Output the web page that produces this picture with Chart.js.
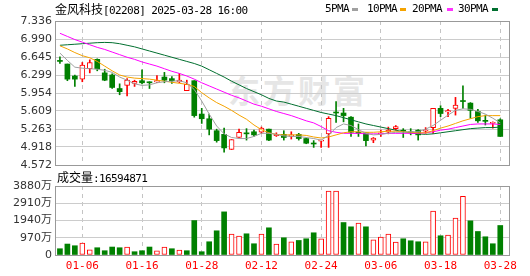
<!DOCTYPE html>
<html>
<head>
<meta charset="utf-8">
<script src="https://cdn.jsdelivr.net/npm/chart.js@4.4.0/dist/chart.umd.min.js"></script>
<style>
    html, body { margin: 0; padding: 0; background: #fff; }
    #wrap { position: relative; width: 530px; height: 276px; overflow: hidden; }
    .t { position: absolute; white-space: nowrap; font-family: "DejaVu Sans Mono", monospace; font-size: 11px; letter-spacing: -0.6px; color: #000; line-height: 12px; }
    .cjk { font-family: "Noto Sans CJK SC"; font-size: 12px; letter-spacing: 0; }
    .sq { position: absolute; width: 6px; height: 3px; top: 8px; }
    #wm { position: absolute; left: 228px; top: 66px; font-family: "Noto Sans CJK SC"; font-weight: bold; font-size: 32px; color: #e6e6e6; letter-spacing: 3px; }
    canvas { position: absolute; left: 0; }
</style>
</head>
<body>
<div id="wrap">
    <div id="wm">东方财富</div>
    <canvas id="price" width="530" height="180" style="top:0;width:530px;height:180px"></canvas>
    <canvas id="vol" width="530" height="106" style="top:170px;width:530px;height:106px"></canvas>

    <div class="t" style="left:55px;top:3px"><span class="cjk">金风科技</span>[02208] 2025-03-28 16:00</div>
    <div class="t" style="left:325px;top:3px">5PMA</div><div class="sq" style="left:352px;background:#a0a0a0"></div>
    <div class="t" style="left:367px;top:3px">10PMA</div><div class="sq" style="left:400px;background:#f5a300"></div>
    <div class="t" style="left:412px;top:3px">20PMA</div><div class="sq" style="left:447px;background:#ff33ff"></div>
    <div class="t" style="left:458px;top:3px">30PMA</div><div class="sq" style="left:492px;background:#006f2f"></div>
    <div class="t" style="left:57px;top:171px"><span class="cjk">成交量</span>:16594871</div>
</div>

<script>
    "use strict";

    // trading days
    const dates = ["12-31", "01-02", "01-03", "01-06", "01-07", "01-08", "01-09", "01-10", "01-13", "01-14",
        "01-15", "01-16", "01-17", "01-20", "01-21", "01-22", "01-23", "01-24", "01-27", "01-28",
        "02-03", "02-04", "02-05", "02-06", "02-07", "02-10", "02-11", "02-12", "02-13", "02-14",
        "02-17", "02-18", "02-19", "02-20", "02-21", "02-24", "02-25", "02-26", "02-27", "02-28",
        "03-03", "03-04", "03-05", "03-06", "03-07", "03-10", "03-11", "03-12", "03-13", "03-14",
        "03-17", "03-18", "03-19", "03-20", "03-21", "03-24", "03-25", "03-26", "03-27", "03-28"];

    const openP = [6.58, 6.51, 6.28, 6.22, 6.42, 6.60, 6.34, 6.30, 6.04, 6.10,
        6.14, 6.19, 6.16, 6.165, 6.26, 6.23, 6.165, 6.00, 6.19, 5.55,
        5.46, 5.23, 5.16, 4.87, 5.10, 5.18, 5.21, 5.20, 5.26, 5.135,
        5.16, 5.12, 5.16, 5.08, 4.985, 5.03, 5.17, 5.58, 5.57, 5.49,
        5.19, 5.19, 5.05, 5.17, 5.20, 5.27, 5.23, 5.205, 5.24, 5.22,
        5.29, 5.66, 5.59, 5.66, 5.80, 5.76, 5.60, 5.43, 5.37, 5.44];
    const highP = [6.65, 6.51, 6.30, 6.54, 6.59, 6.61, 6.41, 6.32, 6.13, 6.23,
        6.20, 6.40, 6.17, 6.29, 6.35, 6.27, 6.33, 6.20, 6.19, 5.66,
        5.55, 5.26, 5.28, 5.06, 5.26, 5.27, 5.24, 5.30, 5.26, 5.19,
        5.23, 5.21, 5.18, 5.09, 5.04, 5.05, 5.50, 5.79, 5.66, 5.50,
        5.36, 5.19, 5.10, 5.24, 5.30, 5.33, 5.27, 5.27, 5.25, 5.29,
        5.66, 5.71, 5.64, 5.87, 6.09, 5.77, 5.64, 5.53, 5.40, 5.46];
    const lowP = [6.52, 6.19, 6.08, 6.17, 6.34, 6.38, 6.19, 6.04, 5.92, 5.90,
        6.08, 6.13, 6.04, 6.15, 6.15, 6.14, 6.15, 6.00, 5.49, 5.37,
        5.15, 5.01, 4.82, 4.87, 5.10, 5.05, 5.12, 5.18, 5.04, 5.12,
        5.05, 5.07, 5.05, 4.98, 4.91, 4.91, 4.91, 5.39, 5.40, 5.12,
        5.12, 4.94, 5.00, 5.12, 5.17, 5.24, 5.10, 5.15, 5.05, 5.18,
        5.18, 5.50, 5.50, 5.53, 5.66, 5.47, 5.39, 5.34, 5.28, 5.12];
    const closeP = [6.56, 6.22, 6.22, 6.49, 6.54, 6.42, 6.20, 6.06, 5.98, 6.20,
        6.18, 6.15, 6.15, 6.19, 6.20, 6.19, 6.20, 6.12, 5.52, 5.46,
        5.26, 5.04, 4.90, 5.06, 5.20, 5.17, 5.15, 5.28, 5.05, 5.16,
        5.10, 5.15, 5.08, 4.99, 4.975, 5.04, 5.47, 5.57, 5.52, 5.20,
        5.18, 5.04, 5.09, 5.19, 5.24, 5.31, 5.22, 5.19, 5.15, 5.24,
        5.66, 5.56, 5.615, 5.72, 5.79, 5.62, 5.42, 5.41, 5.385, 5.12];

    // moving averages as drawn
    const ma5 = [6.72, 6.58, 6.45, 6.43, 6.42, 6.41, 6.39, 6.35, 6.26, 6.20,
        6.13, 6.10, 6.11, 6.15, 6.17, 6.18, 6.19, 6.15, 6.02, 5.80,
        5.55, 5.32, 5.17, 5.10, 5.08, 5.08, 5.12, 5.18, 5.18, 5.16,
        5.13, 5.12, 5.12, 5.10, 5.08, 5.05, 5.14, 5.29, 5.36, 5.33,
        5.25, 5.18, 5.15, 5.16, 5.18, 5.20, 5.20, 5.21, 5.21, 5.26,
        5.33, 5.43, 5.53, 5.62, 5.65, 5.64, 5.60, 5.55, 5.47, 5.38];
    const ma10 = [6.86, 6.80, 6.73, 6.67, 6.63, 6.56, 6.47, 6.38, 6.30, 6.26,
        6.24, 6.23, 6.22, 6.20, 6.18, 6.16, 6.14, 6.12, 6.08, 5.96,
        5.86, 5.77, 5.70, 5.62, 5.53, 5.45, 5.34, 5.25, 5.19, 5.16,
        5.15, 5.15, 5.15, 5.14, 5.11, 5.09, 5.11, 5.15, 5.19, 5.21,
        5.21, 5.20, 5.20, 5.21, 5.22, 5.22, 5.21, 5.20, 5.19, 5.19,
        5.23, 5.28, 5.32, 5.37, 5.42, 5.46, 5.50, 5.52, 5.52, 5.52];
    const ma20 = [7.10, 7.04, 6.98, 6.93, 6.88, 6.83, 6.79, 6.74, 6.69, 6.64,
        6.60, 6.55, 6.51, 6.47, 6.42, 6.37, 6.33, 6.28, 6.22, 6.15,
        6.09, 6.03, 5.97, 5.91, 5.86, 5.80, 5.74, 5.70, 5.65, 5.60,
        5.56, 5.52, 5.47, 5.42, 5.38, 5.31, 5.23, 5.20, 5.18, 5.18,
        5.18, 5.17, 5.17, 5.17, 5.18, 5.18, 5.18, 5.18, 5.18, 5.19,
        5.21, 5.24, 5.26, 5.29, 5.32, 5.35, 5.36, 5.36, 5.36, 5.35];
    const ma30 = [6.87, 6.88, 6.89, 6.90, 6.91, 6.92, 6.925, 6.92, 6.90, 6.87,
        6.84, 6.80, 6.76, 6.72, 6.68, 6.64, 6.60, 6.56, 6.52, 6.47,
        6.40, 6.33, 6.26, 6.18, 6.11, 6.04, 5.98, 5.92, 5.85, 5.80,
        5.78, 5.74, 5.70, 5.66, 5.62, 5.58, 5.55, 5.52, 5.48, 5.44,
        5.40, 5.36, 5.33, 5.30, 5.27, 5.24, 5.21, 5.19, 5.17, 5.16,
        5.17, 5.19, 5.21, 5.23, 5.25, 5.27, 5.28, 5.29, 5.29, 5.30];

    // volume in 万 shares, volUp 1 = red
    const volume = [353, 616, 521, 672, 297, 409, 241, 448, 409, 448,
        185, 241, 448, 241, 448, 353, 280, 241, 1938, 185,
        745, 1361, 2425, 1176, 1064, 1193, 633, 1176, 1529, 616,
        969, 745, 818, 913, 1249, 913, 3601, 3601, 1826, 1585,
        1792, 1585, 857, 1008, 1176, 728, 913, 801, 745, 745,
        2464, 1081, 1120, 2072, 3304, 1921, 1322, 1025, 633, 1659];
    const volUp = [0, 0, 0, 1, 1, 0, 0, 0, 0, 1,
        0, 0, 0, 1, 1, 0, 1, 0, 0, 0,
        0, 0, 0, 1, 1, 0, 0, 1, 0, 1,
        0, 1, 0, 0, 0, 1, 1, 1, 0, 0,
        1, 0, 1, 1, 1, 1, 0, 0, 0, 1,
        1, 0, 1, 1, 1, 0, 0, 0, 0, 0];

    const priceTicks = [4.572, 4.918, 5.263, 5.609, 5.954, 6.299, 6.645, 6.990, 7.336];
    const priceTickLabels = ["4.572", "4.918", "5.263", "5.609", "5.954", "6.299", "6.645", "6.990", "7.336"];
    const volTicks = [0, 970, 1940, 2910, 3880];
    const volTickLabels = ["0", "970万", "1940万", "2910万", "3880万"];
    const dateTicks = ["01-06", "01-16", "01-28", "02-12", "02-24", "03-06", "03-18", "03-28"];

    const RED = "#ff0000", GREEN = "#008000";
    const X_MIN = -0.66, X_MAX = 60.17;

    // box round each panel
    var frame = {
        id: "frame",
        afterDraw: function (chart) {
            var a = chart.chartArea, ctx = chart.ctx;
            ctx.save();
            ctx.strokeStyle = "#999";
            ctx.lineWidth = 1;
            ctx.strokeRect(Math.round(a.left) + 0.5, Math.round(a.top) + 0.5,
                Math.round(a.right - a.left), Math.round(a.bottom - a.top));
            ctx.restore();
        }
    };

    function xScale(showLabels) {
        return {
            type: "linear", min: X_MIN, max: X_MAX, offset: false,
            grid: { color: "#c4c4c4", drawTicks: false, offset: false },
            border: { display: false, dash: [4, 4] },
            ticks: {
                display: showLabels, autoSkip: false, maxRotation: 0, padding: 5,
                color: RED, font: { family: "'DejaVu Sans Mono'", size: 11 },
                callback: function (v) { return dates[v]; }
            },
            afterBuildTicks: function (s) {
                s.ticks = dateTicks.map(function (d) { return { value: dates.indexOf(d) }; });
            },
            afterFit: function (s) { s.height = showLabels ? 21 : 0; }
        };
    }

    function yScale(min, max, vals, labels) {
        return {
            type: "linear", min: min, max: max, beginAtZero: false,
            grid: { color: "#cccccc", drawTicks: false },
            border: { display: false },
            ticks: {
                padding: 3, color: "#333",
                font: { family: "'DejaVu Sans', 'Noto Sans CJK SC'", size: 11 },
                callback: function (v, i) { return labels[i]; }
            },
            afterBuildTicks: function (s) {
                s.ticks = vals.map(function (v) { return { value: v }; });
            },
            afterFit: function (s) { s.width = 55; }
        };
    }

    function maLine(vals, color) {
        return {
            type: "line",
            data: vals.map(function (v, i) { return { x: i, y: v }; }),
            borderColor: color, borderWidth: 1, pointRadius: 0, tension: 0, order: 1
        };
    }

    var up = closeP.map(function (c, i) { return c >= openP[i]; });

    // Price chart
    new Chart(document.getElementById("price").getContext("2d"), {
        type: "bar",
        data: {
            datasets: [{
                    // wicks
                    data: dates.map(function (d, i) { return { x: i, y: [lowP[i], highP[i]] }; }),
                    backgroundColor: up.map(function (u) { return u ? RED : GREEN; }),
                    barThickness: 1, grouped: false, minBarLength: 1, order: 3
                },
                {
                    // bodies
                    data: dates.map(function (d, i) { return { x: i, y: [openP[i], closeP[i]] }; }),
                    backgroundColor: up.map(function (u) { return u ? "#ffffff" : GREEN; }),
                    borderColor: up.map(function (u) { return u ? RED : GREEN; }),
                    borderWidth: up.map(function (u) { return u ? 1 : 0; }),
                    borderSkipped: false, barThickness: 5, grouped: false, minBarLength: 1, order: 2
                },
                maLine(ma5, "#a0a0a0"),
                maLine(ma10, "#f5a300"),
                maLine(ma20, "#ff00ff"),
                maLine(ma30, "#006f2f")
            ]
        },
        options: {
            responsive: false, animation: false, events: [],
            layout: { padding: { left: 0, right: 21, top: 21, bottom: 15 } },
            plugins: { legend: { display: false }, tooltip: { enabled: false } },
            scales: {
                x: xScale(false),
                y: yScale(4.572, 7.336, priceTicks, priceTickLabels)
            }
        },
        plugins: [frame]
    });

    // Volume chart
    new Chart(document.getElementById("vol").getContext("2d"), {
        type: "bar",
        data: {
            datasets: [{
                data: volume.map(function (v, i) { return { x: i, y: v }; }),
                backgroundColor: volUp.map(function (u) { return u ? "#ffffff" : GREEN; }),
                borderColor: volUp.map(function (u) { return u ? RED : GREEN; }),
                borderWidth: volUp.map(function (u) { return u ? 1 : 0; }),
                borderSkipped: false, barThickness: 5, grouped: false
            }]
        },
        options: {
            responsive: false, animation: false, events: [],
            layout: { padding: { left: 0, right: 21, top: 16, bottom: 0 } },
            plugins: { legend: { display: false }, tooltip: { enabled: false } },
            scales: {
                x: xScale(true),
                y: yScale(0, 3880, volTicks, volTickLabels)
            }
        },
        plugins: [frame]
    });
</script>
</body>
</html>
